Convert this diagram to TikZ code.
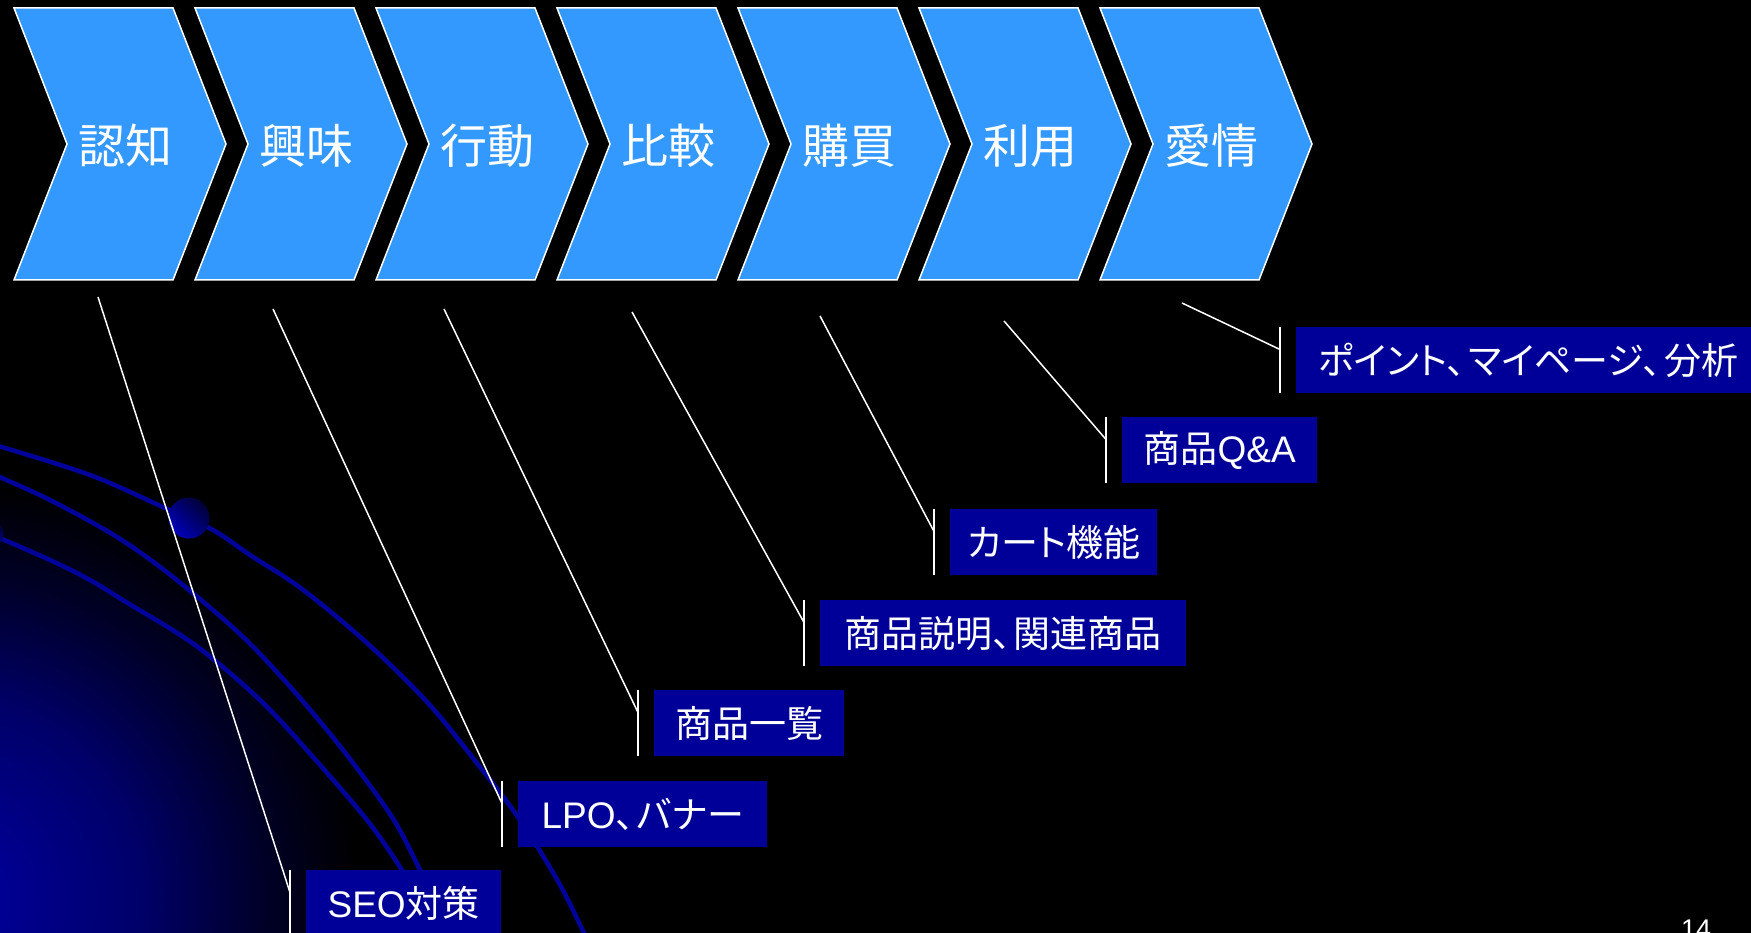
\documentclass[tikz,border=0pt]{standalone}
\usepackage{fontspec}
\setmainfont{Noto Sans CJK JP}[RawFeature=+palt]
\newfontfamily\lat{Liberation Sans}
\newcommand\jcomma{、\hspace{0.08em}}
\definecolor{chev}{RGB}{51,153,255}
\definecolor{boxblue}{RGB}{0,0,153}
\definecolor{arcblue}{RGB}{0,0,155}
\definecolor{glowA}{RGB}{0,0,165}
\definecolor{glowB}{RGB}{0,0,105}
\definecolor{glowC}{RGB}{0,0,38}
\definecolor{sphL}{RGB}{0,0,185}
\definecolor{sphD}{RGB}{0,0,55}
\pgfdeclareradialshading{glowshade}{\pgfpoint{0bp}{0bp}}{color(0bp)=(glowA); color(12bp)=(glowB); color(19.5bp)=(glowC); color(25bp)=(black); color(50bp)=(black)}
\tikzset{
  chevron/.style={fill=chev, draw=white, line width=1.5pt, line join=miter},
  chevlabel/.style={text=white, inner sep=0pt, font=\fontsize{47pt}{52pt}\selectfont},
  callout/.style={fill=boxblue, text=white, anchor=north west, minimum height=66pt, inner xsep=0pt, inner ysep=0pt, font=\fontsize{37pt}{42pt}\selectfont},
  conn/.style={draw=white, line width=1.5pt},
  bar/.style={draw=white, line width=1.5pt},
  arcline/.style={draw=arcblue, line width=4.5pt, line cap=round}
}
\begin{document}
\begin{tikzpicture}[x=1pt,y=-1pt]
\useasboundingbox (0,0) rectangle (1751,933);
\clip (0,0) rectangle (1751,933);
\fill[black] (0,0) rectangle (1751,933);
% background glow
\path[shading=glowshade] (-60,900) circle (420pt);
% decorative arcs
\draw[arcline] plot[smooth, tension=0.55] coordinates {(-5,445) (90,475) (165,508) (213,530) (250,555) (302,589) (367,643) (428,703) (480,767) (520,820) (559,883) (585,935) (590,945)};
\draw[arcline] plot[smooth, tension=0.55] coordinates {(-5,475) (50,500) (117,537) (173,577) (241,635) (293,690) (343,750) (392,817) (420,870) (435,900)};
\draw[arcline] plot[smooth, tension=0.55] coordinates {(-5,536) (50,560) (90,580) (126,602) (195,645) (260,700) (313,757) (367,820) (400,867) (412,890)};
% spheres
\shade[top color=sphD, bottom color=sphL, shading angle=-45] (189,518) circle (20.5pt);
\shade[top color=sphD, bottom color=sphL, shading angle=-45] (-7,534) circle (11pt);
% chevrons
\foreach \lab [count=\i from 0] in {認知,興味,行動,比較,購買,利用,愛情} {
  \pgfmathsetmacro\ox{181*\i}
  \draw[chevron] (14+\ox,8) -- (173+\ox,8) -- (226+\ox,144) -- (173+\ox,280) -- (14+\ox,280) -- (67+\ox,144) -- cycle;
  \node[chevlabel] (c\i) at (125+\ox,146) {\lab};
}
% callout boxes
\node[callout, minimum width=195pt] (b1) at (306,870) {{\lat SEO}対策};
\node[callout, minimum width=249pt] (b2) at (518,781) {{\lat LPO}\jcomma バナー};
\node[callout, minimum width=190pt] (b3) at (654,690) {商品一覧};
\node[callout, minimum width=366pt] (b4) at (820,600) {商品説明\jcomma 関連商品};
\node[callout, minimum width=207pt] (b5) at (950,509) {カート機能};
\node[callout, minimum width=195pt] (b6) at (1122,417) {商品{\lat Q\&A}};
\node[callout, inner xsep=22pt, text width=426pt, align=left] (b7) at (1296,327) {ポイント\jcomma マイページ\jcomma 分析};
% start points of connectors
\coordinate (s1) at (98,297);
\coordinate (s2) at (273,309);
\coordinate (s3) at (444,309);
\coordinate (s4) at (632,312);
\coordinate (s5) at (820,316);
\coordinate (s6) at (1004,321);
\coordinate (s7) at (1182,303);
\foreach \k in {1,...,7} {
  \draw[bar] ([xshift=-16pt]b\k.north west) -- ([xshift=-16pt]b\k.south west);
  \draw[conn] (s\k) -- ([xshift=-16pt,yshift=-22.5pt]b\k.north west);
}
% page number
\node[anchor=north, inner sep=0pt, text=white, font=\lat\fontsize{27pt}{30pt}\selectfont] (pg) at (1696,920) {14};
\end{tikzpicture}
\end{document}
